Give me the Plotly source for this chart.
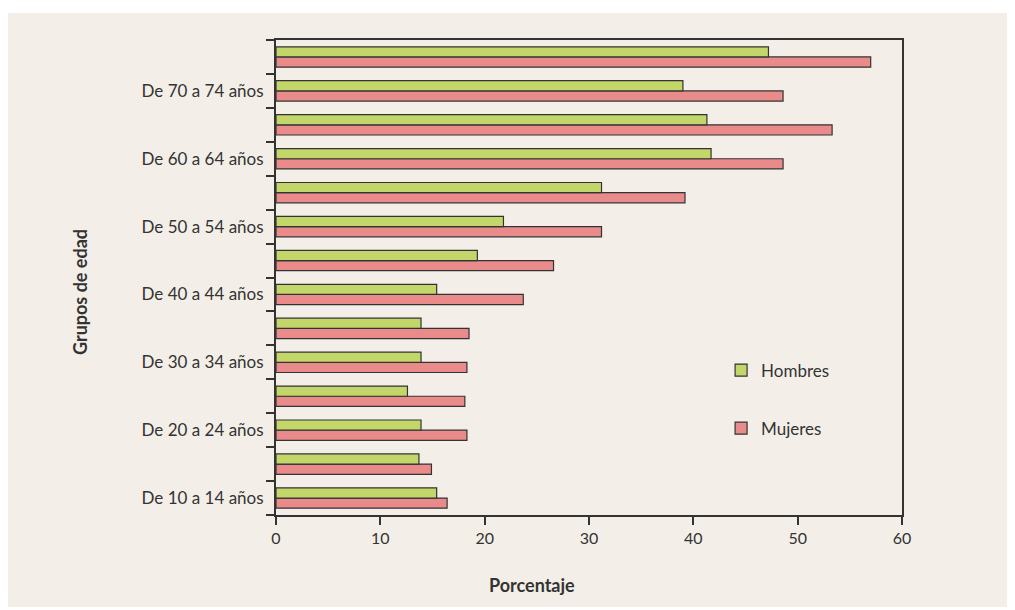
import plotly.graph_objects as go

categories = ["De 10 a 14 años", "De 15 a 19 años", "De 20 a 24 años", "De 25 a 29 años",
              "De 30 a 34 años", "De 35 a 39 años", "De 40 a 44 años", "De 45 a 49 años",
              "De 50 a 54 años", "De 55 a 59 años", "De 60 a 64 años", "De 65 a 69 años",
              "De 70 a 74 años", "De 75 a 79 años"]
tick_labels = ["De 10 a 14 años", "", "De 20 a 24 años", "", "De 30 a 34 años", "",
               "De 40 a 44 años", "", "De 50 a 54 años", "", "De 60 a 64 años", "",
               "De 70 a 74 años", ""]
hombres = [15.4, 13.7, 13.9, 12.6, 13.9, 13.9, 15.4, 19.3, 21.8, 31.2, 41.7, 41.3, 39.0, 47.2]
mujeres = [16.4, 14.9, 18.3, 18.1, 18.3, 18.5, 23.7, 26.6, 31.2, 39.2, 48.6, 53.3, 48.6, 57.0]
x_ticks = [0, 10, 20, 30, 40, 50, 60]

GREEN = "#C3D669"
PINK = "#E88B8A"
DARK = "#333333"
BG = "#F3EFE8"
FONT = "Lato"

fig = go.Figure()
fig.add_trace(go.Bar(y=categories, x=mujeres, orientation="h", name="Mujeres",
                     marker=dict(color=PINK, line=dict(color=DARK, width=1.2)),
                     legendgroup="m", legendrank=2))
fig.add_trace(go.Bar(y=categories, x=hombres, orientation="h", name="Hombres",
                     marker=dict(color=GREEN, line=dict(color=DARK, width=1.2)),
                     legendgroup="h", legendrank=1))

fig.update_layout(
    width=1015, height=610,
    margin=dict(l=268, r=121, t=32, b=103),
    paper_bgcolor="white",
    plot_bgcolor=BG,
    barmode="group", bargap=0.4, bargroupgap=0,
    font=dict(family=FONT, size=17, color=DARK),
    legend=dict(x=0.711, y=0.342, xanchor="left", yanchor="top",
                bgcolor="rgba(0,0,0,0)", tracegroupgap=33,
                font=dict(family=FONT, size=17, color=DARK)),
    shapes=[dict(type="rect", xref="paper", yref="paper",
                 x0=-0.4297, x1=1.1805, y0=-0.1937, y1=1.0568,
                 fillcolor=BG, line=dict(width=0), layer="below")],
    annotations=[
        dict(text="<b>Porcentaje</b>", xref="paper", yref="paper",
             x=(532 - 276) / 626, y=(515 - 585) / 475, showarrow=False,
             font=dict(family=FONT, size=18, color=DARK), xanchor="center", yanchor="middle"),
        dict(text="<b>Grupos de edad</b>", xref="paper", yref="paper",
             x=(80 - 276) / 626, y=(515 - 292) / 475, showarrow=False, textangle=-90,
             font=dict(family=FONT, size=18, color=DARK), xanchor="center", yanchor="middle"),
    ],
)

fig.update_xaxes(range=[0, 60], tickvals=x_ticks, ticks="outside", ticklen=8,
                 tickwidth=1.5, tickcolor=DARK, showline=True, linecolor=DARK,
                 linewidth=2, mirror=True, showgrid=False, zeroline=False,
                 tickfont=dict(family=FONT, size=16, color=DARK))
fig.update_yaxes(type="category", categoryorder="array", categoryarray=categories,
                 tickmode="array", tickvals=categories, ticktext=tick_labels,
                 tickson="boundaries", ticks="outside", ticklen=8, tickwidth=1.5,
                 tickcolor=DARK, showline=True, linecolor=DARK, linewidth=2,
                 mirror=True, showgrid=False, range=[-0.5, 13.5],
                 ticklabelstandoff=7,
                 tickfont=dict(family=FONT, size=17, color=DARK))

fig.write_html("out.html")
